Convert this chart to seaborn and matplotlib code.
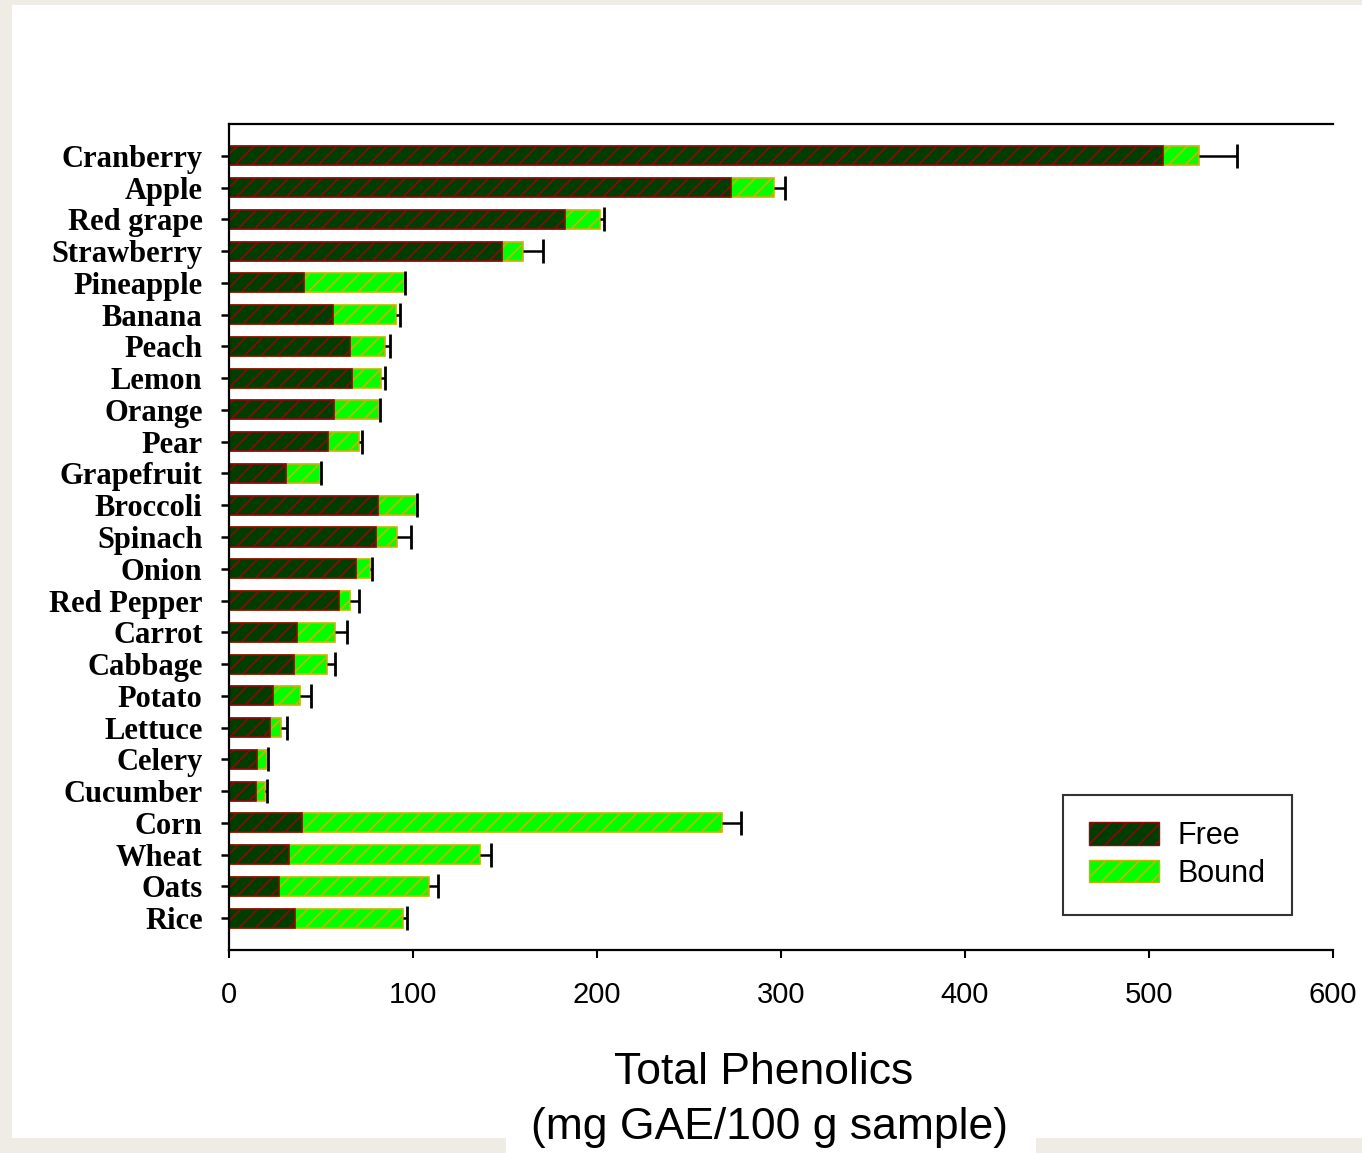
import matplotlib
matplotlib.use("Agg")
import matplotlib.pyplot as plt
import seaborn as sns
import pandas as pd
import numpy as np
from matplotlib.patches import Rectangle, Patch

foods = ["Cranberry", "Apple", "Red grape", "Strawberry", "Pineapple", "Banana", "Peach",
         "Lemon", "Orange", "Pear", "Grapefruit", "Broccoli", "Spinach", "Onion",
         "Red Pepper", "Carrot", "Cabbage", "Potato", "Lettuce", "Celery", "Cucumber",
         "Corn", "Wheat", "Oats", "Rice"]
free = [507.6, 272.8, 182.6, 148.4, 40.8, 56.5, 65.8, 66.8, 57.0, 53.8, 31.0, 81.0, 80.0,
        69.0, 59.8, 37.0, 35.3, 24.0, 22.3, 15.2, 14.7, 39.7, 32.6, 27.2, 35.9]
bound = [19.4, 23.2, 19.0, 11.4, 54.2, 34.3, 19.0, 15.8, 24.5, 16.9, 18.5, 20.6, 11.3,
         7.6, 6.0, 20.6, 18.0, 14.6, 6.0, 5.5, 4.9, 228.3, 103.8, 81.5, 58.7]
err = [21.0, 6.0, 2.4, 10.9, 0.7, 2.2, 2.7, 2.2, 0.5, 1.6, 0.5, 0.6, 7.7, 1.1, 4.9, 6.4,
       4.3, 5.9, 3.2, 0.5, 1.1, 10.0, 6.0, 4.9, 2.1]
xticks = [0, 100, 200, 300, 400, 500, 600]

df = pd.DataFrame({"food": foods, "free": free, "bound": bound, "err": err})
df["total"] = df["free"] + df["bound"]

W, H = 1362, 1153
fig = plt.figure(figsize=(W / 100, H / 100), dpi=100)
beige = "#EFECE5"
fig.patch.set_facecolor(beige)
fig.patches.append(Rectangle((12 / W, 1 - 1138 / H), 1 - 12 / W, (1138 - 5) / H,
                             transform=fig.transFigure, facecolor="white",
                             edgecolor="none", zorder=-10))
fig.patches.append(Rectangle((506 / W, 0), (1036 - 506) / W, 20 / H,
                             transform=fig.transFigure, facecolor="white",
                             edgecolor="none", zorder=-10))

ax = fig.add_axes([229 / W, 1 - 950 / H, (1333 - 229) / W, (950 - 124) / H])
ax.set_facecolor("none")

plt.rcParams["hatch.linewidth"] = 1.2
sns.barplot(data=df, y="food", x="total", orient="h", color="#00FF00", ax=ax,
            width=0.6, edgecolor="#C8B400", linewidth=1.2, hatch="//",
            saturation=1, errorbar=None)
sns.barplot(data=df, y="food", x="free", orient="h", color="#003D00", ax=ax,
            width=0.6, edgecolor="#8B0A0A", linewidth=1.2, hatch="//",
            saturation=1, errorbar=None)

ypos = np.arange(len(foods))
ends = df["total"] + df["err"]
ax.hlines(ypos, df["total"], ends, color="black", linewidth=1.8, zorder=5)
ax.plot(ends, ypos, linestyle="none", marker="|", markersize=17, markeredgewidth=2.0,
        color="black", zorder=5)

ax.set_xlim(0, 600)
ax.set_ylim(len(foods), -1)
ax.set_xticks(xticks)
ax.set_xticklabels([str(t) for t in xticks], fontfamily="Liberation Sans", fontsize=21)
ax.set_yticks(ypos)
ax.set_yticklabels(foods, fontfamily="Liberation Serif", fontweight="bold", fontsize=22)
ax.tick_params(axis="y", length=6, width=1.8, pad=13, direction="out")
ax.tick_params(axis="x", length=6, width=1.5, pad=16, direction="out")
ax.set_xlabel("")
ax.set_ylabel("")
for s in ["left", "bottom", "top"]:
    ax.spines[s].set_linewidth(1.6)
    ax.spines[s].set_color("black")
ax.spines["right"].set_visible(False)

handles = [Patch(facecolor="#003D00", edgecolor="#8B0A0A", hatch="//", label="Free"),
           Patch(facecolor="#00FF00", edgecolor="#C8B400", hatch="//", label="Bound")]
leg = fig.legend(handles=handles, loc="upper left",
                 bbox_to_anchor=(1063 / W, 1 - 795 / H), bbox_transform=fig.transFigure,
                 prop={"family": "Liberation Sans", "size": 22}, frameon=True,
                 fancybox=False, edgecolor="black", handlelength=2.3, handleheight=0.75,
                 borderpad=0.85, labelspacing=0.25, handletextpad=0.6, borderaxespad=0)
leg.get_frame().set_linewidth(1.5)

xl_font = ["Liberation Sans"]
fig.text(764 / W, 1 - 1072 / H, "Total Phenolics", ha="center", va="center",
         fontsize=32, family=xl_font)
fig.text(770 / W, 1 - 1127 / H, "(mg GAE/100 g sample)", ha="center", va="center",
         fontsize=32, family=xl_font)

fig.savefig("out.png", dpi=100, facecolor=fig.get_facecolor())
